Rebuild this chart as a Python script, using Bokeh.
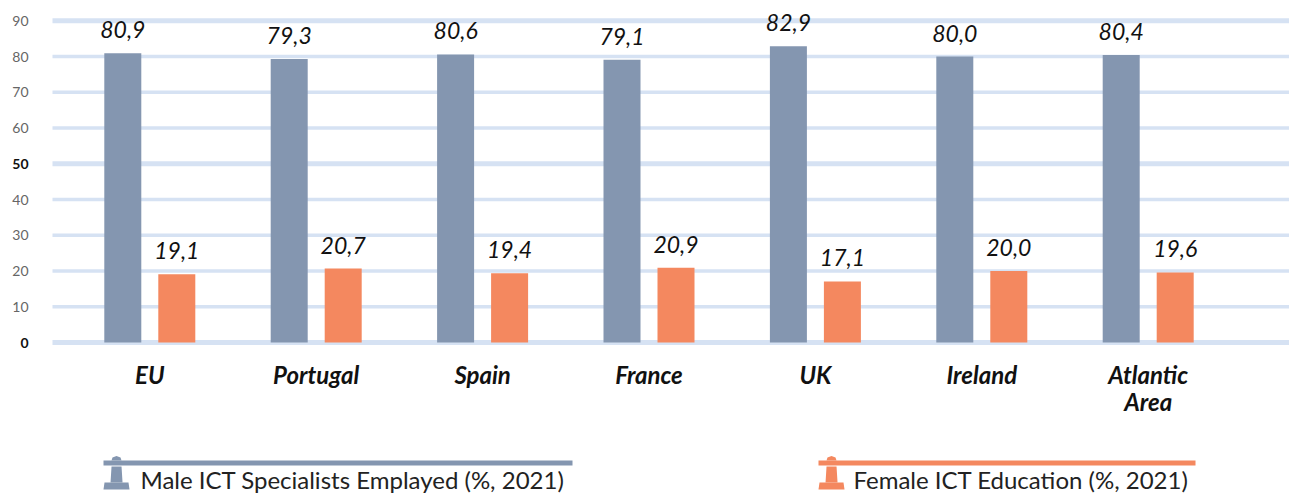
from bokeh.plotting import figure
from bokeh.embed import file_html
from bokeh.resources import INLINE
from bokeh.core.properties import value
from bokeh.layouts import column
from bokeh.models import (Range1d, FixedTicker, ColumnDataSource, LinearAxis)

categories = ["EU", "Portugal", "Spain", "France", "UK", "Ireland", "Atlantic\nArea"]
male = [80.9, 79.3, 80.6, 79.1, 82.9, 80.0, 80.4]
female = [19.1, 20.7, 19.4, 20.9, 17.1, 20.0, 19.6]
gray_ticks = [10, 20, 30, 40, 60, 70, 80, 90]
bold_ticks = [0, 50]
legend_male = "Male ICT Specialists Emplayed (%, 2021)"
legend_female = "Female ICT Education (%, 2021)"

MALE = "#8496B0"
FEMALE = "#F4885F"
GRID = "#D6E2F3"
FONT = "Lato"

W = 1289
SPLIT = 425            # page y where the legend strip starts
BOTTOM = 493
GL = 52                # left end of the grid lines on the page
LABEL_R = 28           # right edge of the y tick labels on the page
FB = 350               # frame bottom on the page
Y0, Y90 = 342.0, 20.3
sy = (Y0 - Y90) / 90
step = 166.4
cx0 = 149.3

X = lambda px: (px - cx0) / step
x_range = Range1d(X(0), X(W))
y_range = Range1d(-(FB - Y0) / sy, 90 + Y90 / sy)

p = figure(width=W, height=SPLIT, x_range=x_range, y_range=y_range, output_backend="svg",
           toolbar_location=None, x_axis_location=None, y_axis_location=None,
           min_border=0, min_border_bottom=SPLIT - FB, outline_line_color=None)
p.xgrid.visible = False
p.ygrid.visible = False

# category axis
xa = LinearAxis(ticker=FixedTicker(ticks=list(range(len(categories)))),
                major_label_overrides={i: c for i, c in enumerate(categories)},
                axis_line_color=None, major_tick_line_color=None, minor_tick_line_color=None,
                major_tick_in=0, major_tick_out=0,
                major_label_text_font=FONT, major_label_text_font_size="24px",
                major_label_text_font_style="bold italic", major_label_text_color="#111111",
                major_label_text_line_height=0.95, major_label_standoff=9)
p.add_layout(xa, "below")

# value grid and its tick labels
def rule(ticks, thick):
    p.segment(x0=[X(GL)] * len(ticks), x1=[X(W)] * len(ticks), y0=ticks, y1=ticks,
              line_color=GRID, line_width=thick, line_cap="butt", level="underlay")

rule([t for t in gray_ticks if t != 90], 3.5)
rule(bold_ticks + [90], 5)

def tick_labels(ticks, col, style):
    p.text(x=[X(LABEL_R)] * len(ticks), y=ticks, text=[str(t) for t in ticks], text_font=value(FONT),
           text_font_size="14px", text_font_style=style, text_color=col,
           text_align="right", text_baseline="middle")

tick_labels(gray_ticks, "#666666", "normal")
tick_labels(bold_ticks, "#111111", "bold")

# bars
offset = 27 / step
width = 37 / step
xs = list(range(len(categories)))
fmt = lambda v: f"{v:.1f}".replace(".", ",")
src_m = ColumnDataSource(dict(x=[i - offset for i in xs], v=male, t=[fmt(v) for v in male]))
src_f = ColumnDataSource(dict(x=[i + offset for i in xs], v=female, t=[fmt(v) for v in female]))
for src, col in ((src_m, MALE), (src_f, FEMALE)):
    p.vbar(x="x", top="v", bottom=0, width=width, source=src, fill_color=col, line_color=None)
    p.text(x="x", y="v", text="t", source=src, y_offset=-15, text_align="center",
           text_baseline="bottom", text_font=value(FONT), text_font_size="23px",
           text_font_style="italic", text_color="#111111")

# legend strip, its ranges are page pixels
q = figure(width=W, height=BOTTOM - SPLIT, x_range=Range1d(0, W), y_range=Range1d(BOTTOM, SPLIT),
           output_backend="svg", toolbar_location=None, x_axis_location=None, y_axis_location=None,
           min_border=0, outline_line_color=None)
q.xgrid.visible = False
q.ygrid.visible = False

def legend(x_line1, x_icon, x_text, text, col):
    q.quad(left=x_icon, right=x_line1, top=460, bottom=465, fill_color=col, line_color=None)
    shapes = [
        [(x_icon + 8, 460), (x_icon + 9, 457), (x_icon + 13, 455.5), (x_icon + 17, 457), (x_icon + 18, 460)],
        [(x_icon + 8, 466), (x_icon + 18, 466), (x_icon + 19, 482), (x_icon + 7, 482)],
        [(x_icon + 1, 482), (x_icon + 25, 482), (x_icon + 26, 489), (x_icon, 489)],
    ]
    for sh in shapes:
        q.patch([a for a, b in sh], [b for a, b in sh], fill_color=col, line_color=None)
    q.text(x=[x_text], y=[478.5], text=[text], text_font=value(FONT), text_font_size="24px",
           text_color="#222222", text_align="left", text_baseline="middle")

legend(572, 103, 140, legend_male, MALE)
legend(1195, 818, 853, legend_female, FEMALE)

page = column(p, q, spacing=0)
open("out.html", "w").write(file_html(page, INLINE))
